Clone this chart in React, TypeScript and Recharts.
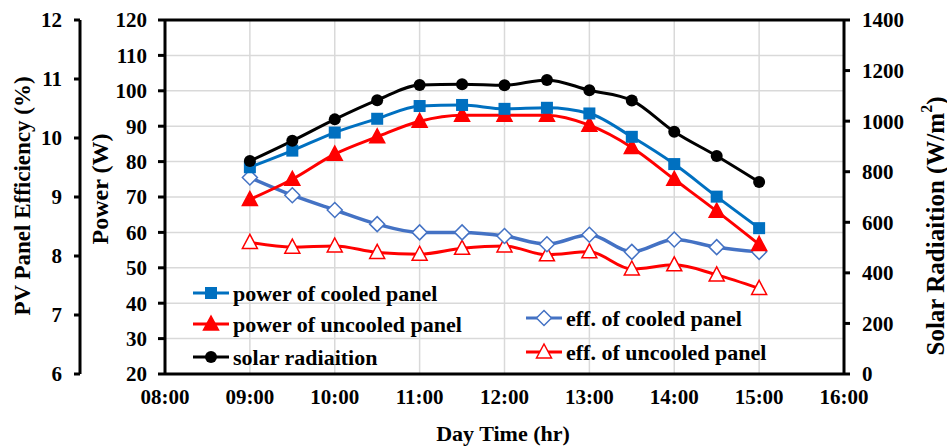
import React from 'react';
import {
  ComposedChart, Line, XAxis, YAxis, CartesianGrid, ReferenceLine,
} from 'recharts';

const FONT = '"Liberation Serif", "Times New Roman", serif';

const times = ['09:00', '09:30', '10:00', '10:30', '11:00', '11:30', '12:00', '12:30', '13:00', '13:30', '14:00', '14:30', '15:00'];
const powerCooled = [78.4, 83.1, 88.2, 92.1, 95.7, 96.0, 94.9, 95.2, 93.6, 87.0, 79.3, 70.1, 61.2];
const powerUncooled = [69.3, 75.0, 82.1, 87.0, 91.4, 93.1, 93.1, 93.1, 90.3, 84.0, 75.0, 66.0, 56.6];
const solarRadiation = [842, 922, 1007, 1083, 1143, 1146, 1142, 1163, 1122, 1082, 958, 862, 759];
const effCooled = [9.33, 9.03, 8.78, 8.54, 8.40, 8.40, 8.34, 8.20, 8.36, 8.07, 8.28, 8.15, 8.07];
const effUncooled = [8.23, 8.15, 8.17, 8.06, 8.03, 8.13, 8.17, 8.02, 8.07, 7.78, 7.85, 7.68, 7.45];

const hourTicks = [8, 9, 10, 11, 12, 13, 14, 15, 16];
const powerTicks = [20, 30, 40, 50, 60, 70, 80, 90, 100, 110, 120];
const effTicks = [6, 7, 8, 9, 10, 11, 12];
const solarTicks = [0, 200, 400, 600, 800, 1000, 1200, 1400];

const BLUE = '#0070C0';
const RED = '#FF0000';
const EFF_BLUE = '#4472C4';

// axis ids: left axes are stacked outward in id order, so power (0) sits next to the plot
const POWER = 0;
const EFF = 1;
const SOLAR = 2;

const toHour = (t: string) => {
  const [h, m] = t.split(':').map(Number);
  return h + m / 60;
};
const fmtHour = (h: number) => `${String(h).padStart(2, '0')}:00`;

const data = times.map((t, i) => ({
  hour: toHour(t),
  powerCooled: powerCooled[i],
  powerUncooled: powerUncooled[i],
  solar: solarRadiation[i],
  effCooled: effCooled[i],
  effUncooled: effUncooled[i],
}));

const tickStyle = { fill: '#000', fontSize: 21, fontWeight: 'bold', fontFamily: FONT };
const axisLine = { stroke: '#000', strokeWidth: 3 };

// marker shapes, shared by the series and the legend
const Square = ({ x, y }: { x: number; y: number }) => (
  <rect x={x - 6} y={y - 6} width={12} height={12} fill={BLUE} />
);
const Tri = ({ x, y, fill, stroke }: { x: number; y: number; fill: string; stroke: string }) => (
  <polygon
    points={`${x},${y - 8} ${x - 7.5},${y + 6} ${x + 7.5},${y + 6}`}
    fill={fill}
    stroke={stroke}
    strokeWidth={1.5}
  />
);
const Diamond = ({ x, y }: { x: number; y: number }) => (
  <polygon
    points={`${x},${y - 7.5} ${x + 7.5},${y} ${x},${y + 7.5} ${x - 7.5},${y}`}
    fill="#fff"
    stroke={EFF_BLUE}
    strokeWidth={1.5}
  />
);
const Dot = ({ x, y }: { x: number; y: number }) => <circle cx={x} cy={y} r={6} fill="#000" />;

const mk = (render: (x: number, y: number) => React.ReactElement) =>
  (p: any) => <g key={`m-${p.index}`}>{render(p.cx, p.cy)}</g>;

const legendText = { fontSize: 22, fontWeight: 'bold', fontFamily: FONT, fill: '#000' } as const;

function LegendRow({ x, y, color, marker, label }: { x: number; y: number; color: string; marker: React.ReactElement; label: string }) {
  return (
    <g>
      <line x1={x} y1={y} x2={x + 36} y2={y} stroke={color} strokeWidth={3} />
      {marker}
      <text x={x + 40} y={y} dominantBaseline="central" {...legendText}>{label}</text>
    </g>
  );
}

export default function App() {
  return (
    <div style={{ position: 'absolute', left: 0, top: 0, width: 947, height: 446, background: '#fff' }}>
      <ComposedChart width={947} height={446} data={data} margin={{ top: 20, right: 0, bottom: 0, left: 0 }}>
        <CartesianGrid yAxisId={POWER} stroke="#d9d9d9" strokeWidth={1.5} />
        <XAxis
          type="number"
          dataKey="hour"
          domain={[8, 16]}
          ticks={hourTicks}
          tickFormatter={fmtHour}
          height={72}
          tick={tickStyle}
          tickLine={false}
          tickSize={6}
          tickMargin={9}
          axisLine={axisLine}
        />
        <YAxis
          yAxisId={POWER}
          domain={[20, 120]}
          ticks={powerTicks}
          width={85}
          tick={tickStyle}
          tickLine={{ stroke: '#000', strokeWidth: 3 }}
          tickSize={7}
          tickMargin={11}
          axisLine={axisLine}
        />
        <YAxis
          yAxisId={EFF}
          domain={[6, 12]}
          ticks={effTicks}
          width={80}
          tick={tickStyle}
          tickLine={{ stroke: '#000', strokeWidth: 3 }}
          tickSize={6}
          tickMargin={12}
          axisLine={axisLine}
        />
        <YAxis
          yAxisId={SOLAR}
          orientation="right"
          domain={[0, 1400]}
          ticks={solarTicks}
          width={103}
          tick={tickStyle}
          tickLine={{ stroke: '#000', strokeWidth: 3 }}
          tickSize={6}
          tickMargin={12}
          axisLine={axisLine}
        />
        {/* top edge of the plot frame */}
        <ReferenceLine yAxisId={POWER} y={120} stroke="#000" strokeWidth={3} />

        <Line yAxisId={EFF} dataKey="effUncooled" type="monotone" stroke={RED} strokeWidth={3}
          dot={mk((x, y) => <Tri x={x} y={y} fill="#fff" stroke={RED} />)} isAnimationActive={false} />
        <Line yAxisId={EFF} dataKey="effCooled" type="monotone" stroke={EFF_BLUE} strokeWidth={3.5}
          dot={mk((x, y) => <Diamond x={x} y={y} />)} isAnimationActive={false} />
        <Line yAxisId={POWER} dataKey="powerUncooled" type="monotone" stroke={RED} strokeWidth={3}
          dot={mk((x, y) => <Tri x={x} y={y} fill={RED} stroke={RED} />)} isAnimationActive={false} />
        <Line yAxisId={POWER} dataKey="powerCooled" type="monotone" stroke={BLUE} strokeWidth={3}
          dot={mk((x, y) => <Square x={x} y={y} />)} isAnimationActive={false} />
        <Line yAxisId={SOLAR} dataKey="solar" type="monotone" stroke="#000" strokeWidth={3}
          dot={mk((x, y) => <Dot x={x} y={y} />)} isAnimationActive={false} />
      </ComposedChart>

      {/* axis titles and the two legend blocks */}
      <svg width={947} height={446} style={{ position: 'absolute', left: 0, top: 0, pointerEvents: 'none' }}>
        <text x={22} y={196} transform="rotate(-90 22 196)" textAnchor="middle" dominantBaseline="central" {...legendText} fontSize={23}>
          PV Panel Efficiency (%)
        </text>
        <text x={100} y={189} transform="rotate(-90 100 189)" textAnchor="middle" dominantBaseline="central" {...legendText} fontSize={24}>
          Power (W)
        </text>
        <text x={935} y={226} transform="rotate(-90 935 226)" textAnchor="middle" dominantBaseline="central" {...legendText} fontSize={25}>
          Solar Radiaition (W/m<tspan fontSize={16} dy={-9}>2</tspan><tspan dy={9}>)</tspan>
        </text>
        <text x={503} y={433} textAnchor="middle" dominantBaseline="central" {...legendText}>
          Day Time (hr)
        </text>

        <LegendRow x={193} y={293} color={BLUE} marker={<Square x={211} y={293} />} label="power of cooled panel" />
        <LegendRow x={193} y={324} color={RED} marker={<Tri x={211} y={324} fill={RED} stroke={RED} />} label="power of uncooled panel" />
        <LegendRow x={193} y={357} color="#000" marker={<Dot x={211} y={357} />} label="solar radiaition" />
        <LegendRow x={526} y={318} color={EFF_BLUE} marker={<Diamond x={544} y={318} />} label="eff. of cooled panel" />
        <LegendRow x={526} y={352} color={RED} marker={<Tri x={544} y={352} fill="#fff" stroke={RED} />} label="eff. of uncooled panel" />
      </svg>
    </div>
  );
}
